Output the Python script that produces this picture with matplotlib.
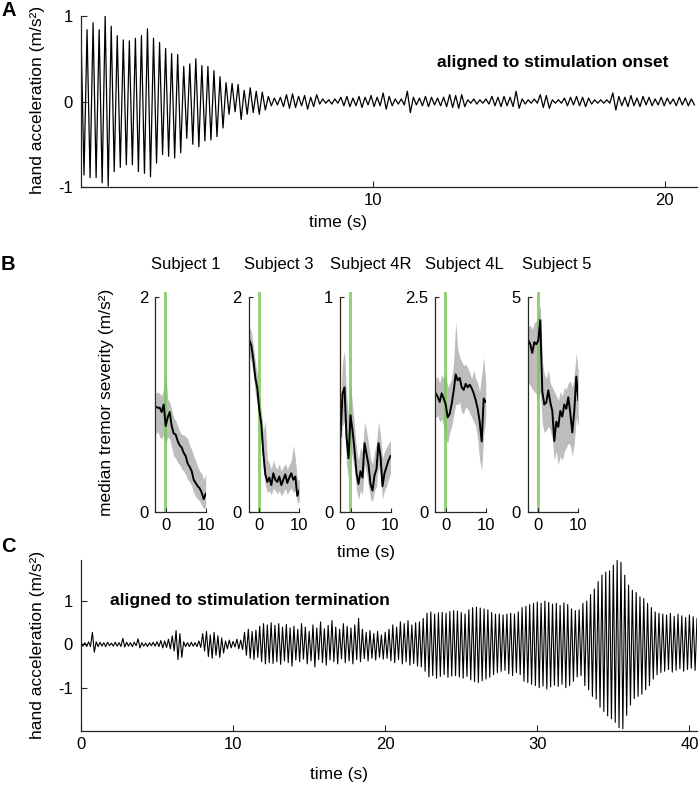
import numpy as np
import matplotlib.pyplot as plt

plt.rcParams['font.family'] = ['Liberation Sans', 'DejaVu Sans']
plt.rcParams['font.size'] = 12
plt.rcParams['axes.unicode_minus'] = False

# ---- panel A: hand acceleration aligned to stimulation onset (m/s^2)
a_cycle = 0.207   # s from one peak to the next
a_peaks = [
    0.81, 0.84, 0.92, 0.84, 1.00, 0.88, 0.77, 0.72, 0.71, 0.74,
    0.77, 0.85, 0.74, 0.69, 0.62, 0.56, 0.55, 0.41, 0.44, 0.50,
    0.42, 0.41, 0.36, 0.29, 0.22, 0.21, 0.20, 0.13, 0.16, 0.12,
    0.11, 0.06, 0.04, 0.05, 0.08, 0.09, 0.06, 0.07, 0.05, 0.08,
    0.03, 0.02, 0.03, 0.05, 0.06, 0.04, 0.06, 0.05, 0.07, 0.05,
    0.10, 0.06, 0.03, 0.03, 0.12, 0.05, 0.04, 0.06, 0.05, 0.04,
    0.05, 0.08, 0.07, 0.08, 0.02, 0.03, 0.02, 0.03, 0.06, 0.05,
    0.06, 0.05, 0.12, 0.03, 0.02, 0.03, 0.08, 0.07, 0.02, 0.02,
    0.04, 0.05, 0.06, 0.05, 0.04, 0.02, 0.02, 0.02, 0.10, 0.06,
    0.05, 0.07, 0.04, 0.06, 0.05, 0.03, 0.05, 0.04, 0.03, 0.05, 0.04, 0.03,
]
a_troughs = [
    -0.86, -0.89, -0.89, -0.95, -0.99, -0.82, -0.77, -0.74, -0.74, -0.82,
    -0.84, -0.88, -0.72, -0.62, -0.64, -0.66, -0.60, -0.43, -0.50, -0.53,
    -0.46, -0.45, -0.41, -0.31, -0.15, -0.12, -0.21, -0.15, -0.13, -0.15,
    -0.10, -0.05, -0.04, -0.06, -0.08, -0.07, -0.05, -0.09, -0.06, -0.03,
    -0.02, -0.03, -0.02, -0.05, -0.06, -0.05, -0.07, -0.04, -0.06, -0.05,
    -0.09, -0.05, -0.03, -0.04, -0.13, -0.04, -0.05, -0.06, -0.04, -0.05,
    -0.06, -0.07, -0.08, -0.06, -0.02, -0.03, -0.02, -0.03, -0.05, -0.06,
    -0.05, -0.06, -0.08, -0.03, -0.02, -0.02, -0.07, -0.08, -0.02, -0.02,
    -0.05, -0.04, -0.05, -0.06, -0.03, -0.02, -0.02, -0.02, -0.10, -0.05,
    -0.06, -0.05, -0.06, -0.04, -0.05, -0.04, -0.05, -0.03, -0.05, -0.04, -0.05, -0.04,
]

# ---- panel C: hand acceleration aligned to stimulation termination (m/s^2)
c_cycle = 0.25
c_peaks = [
    0.05, 0.04, 0.06, 0.28, 0.06, 0.05, 0.04, 0.05, 0.03, 0.05,
    0.04, 0.14, 0.05, 0.04, 0.05, 0.13, 0.04, 0.03, 0.04, 0.05,
    0.06, 0.09, 0.08, 0.12, 0.20, 0.32, 0.25, 0.06, 0.04, 0.05,
    0.04, 0.08, 0.25, 0.30, 0.22, 0.28, 0.20, 0.15, 0.08, 0.10,
    0.07, 0.12, 0.10, 0.28, 0.35, 0.30, 0.33, 0.42, 0.48, 0.45,
    0.50, 0.44, 0.48, 0.40, 0.46, 0.38, 0.42, 0.35, 0.48, 0.40,
    0.30, 0.45, 0.38, 0.52, 0.36, 0.44, 0.55, 0.40, 0.35, 0.48,
    0.42, 0.38, 0.45, 0.60, 0.35, 0.28, 0.32, 0.25, 0.30, 0.22,
    0.28, 0.35, 0.45, 0.40, 0.52, 0.48, 0.55, 0.45, 0.50, 0.52,
    0.60, 0.72, 0.75, 0.70, 0.73, 0.74, 0.72, 0.76, 0.78, 0.77,
    0.74, 0.70, 0.80, 0.85, 0.86, 0.84, 0.82, 0.80, 0.74, 0.70,
    0.70, 0.68, 0.70, 0.72, 0.70, 0.75, 0.85, 0.88, 0.92, 0.95,
    0.98, 0.95, 1.00, 0.97, 0.93, 0.95, 0.90, 0.96, 0.92, 0.82,
    0.78, 0.80, 0.95, 1.00, 1.15, 1.28, 1.45, 1.60, 1.67, 1.70,
    1.83, 1.94, 1.90, 1.60, 1.37, 1.25, 1.20, 1.10, 1.06, 0.95,
    0.85, 0.75, 0.72, 0.70, 0.68, 0.72, 0.65, 0.70, 0.66, 0.62, 0.68, 0.64, 0.60,
]
c_troughs = [
    -0.04, -0.05, -0.05, -0.18, -0.05, -0.04, -0.05, -0.03, -0.04, -0.04,
    -0.05, -0.06, -0.04, -0.05, -0.03, -0.08, -0.04, -0.05, -0.03, -0.04,
    -0.05, -0.08, -0.07, -0.10, -0.15, -0.35, -0.30, -0.05, -0.05, -0.04,
    -0.05, -0.07, -0.15, -0.28, -0.32, -0.25, -0.30, -0.20, -0.10, -0.08,
    -0.06, -0.10, -0.12, -0.25, -0.32, -0.35, -0.30, -0.40, -0.45, -0.42,
    -0.44, -0.40, -0.46, -0.38, -0.42, -0.50, -0.36, -0.40, -0.34, -0.45,
    -0.38, -0.52, -0.35, -0.42, -0.48, -0.36, -0.40, -0.45, -0.33, -0.42,
    -0.38, -0.45, -0.35, -0.40, -0.33, -0.38, -0.32, -0.36, -0.30, -0.34,
    -0.32, -0.38, -0.42, -0.35, -0.45, -0.40, -0.48, -0.44, -0.50, -0.52,
    -0.62, -0.75, -0.72, -0.78, -0.74, -0.70, -0.76, -0.73, -0.72, -0.75,
    -0.78, -0.74, -0.82, -0.86, -0.88, -0.84, -0.80, -0.76, -0.70, -0.65,
    -0.62, -0.60, -0.68, -0.72, -0.65, -0.70, -0.85, -0.88, -0.92, -0.95,
    -1.00, -0.96, -1.03, -0.98, -0.94, -0.97, -0.92, -1.00, -0.95, -0.85,
    -0.75, -0.72, -0.95, -1.05, -1.20, -1.26, -1.45, -1.55, -1.65, -1.72,
    -1.80, -1.92, -1.95, -1.64, -1.40, -1.25, -1.20, -1.15, -1.05, -0.95,
    -0.80, -0.70, -0.65, -0.62, -0.58, -0.64, -0.60, -0.56, -0.62, -0.58, -0.55, -0.60, -0.56,
]

# ---- panel B: median tremor severity around stimulation onset
b_time = [-2.5, -2.0, -1.5, -1.0, -0.5, 0.0, 0.5, 1.0, 1.5, 2.0, 2.5, 3.0, 3.5,
          4.0, 4.5, 5.0, 5.5, 6.0, 6.5, 7.0, 7.5, 8.0, 8.5, 9.0, 9.5, 10.0]
subjects = ['Subject 1', 'Subject 3', 'Subject 4R', 'Subject 4L', 'Subject 5']
b_ymax = [2, 2, 1, 2.5, 5]
b_ymax_labels = ['2', '2', '1', '2.5', '5']

sev_med = [
    [0.98, 0.97, 0.97, 0.93, 1.00, 0.80, 0.88, 0.93, 0.80, 0.73, 0.72, 0.66, 0.62,
     0.60, 0.55, 0.52, 0.45, 0.42, 0.38, 0.30, 0.27, 0.24, 0.22, 0.18, 0.12, 0.17],
    [1.60, 1.55, 1.42, 1.25, 1.15, 0.95, 0.82, 0.55, 0.35, 0.28, 0.32, 0.25, 0.36,
     0.30, 0.28, 0.33, 0.25, 0.30, 0.35, 0.27, 0.32, 0.36, 0.30, 0.33, 0.15, 0.20],
    [0.35, 0.55, 0.58, 0.35, 0.25, 0.45, 0.38, 0.29, 0.18, 0.13, 0.19, 0.16, 0.32,
     0.27, 0.22, 0.13, 0.10, 0.17, 0.20, 0.32, 0.26, 0.12, 0.18, 0.21, 0.24, 0.26],
    [1.38, 1.34, 1.28, 1.38, 1.32, 1.25, 1.10, 1.14, 1.26, 1.41, 1.60, 1.53, 1.56,
     1.45, 1.42, 1.49, 1.45, 1.48, 1.44, 1.38, 1.30, 1.20, 1.05, 0.82, 1.32, 1.28],
    [3.99, 3.90, 3.70, 3.95, 3.90, 3.99, 4.46, 2.80, 2.50, 2.55, 2.83, 2.55, 2.35,
     1.65, 2.10, 1.98, 2.35, 2.22, 2.50, 2.40, 2.67, 2.30, 1.85, 2.35, 3.15, 2.60],
]
sev_hi = [
    [1.10, 1.12, 1.10, 1.08, 1.15, 1.32, 1.05, 1.02, 0.95, 0.88, 0.85, 0.80, 0.75,
     0.72, 0.72, 0.70, 0.68, 0.62, 0.58, 0.52, 0.48, 0.42, 0.38, 0.36, 0.30, 0.35],
    [1.72, 1.68, 1.55, 1.40, 1.28, 1.08, 0.95, 0.75, 0.85, 0.50, 0.45, 0.40, 0.48,
     0.42, 0.40, 0.45, 0.38, 0.42, 0.45, 0.40, 0.44, 0.48, 0.62, 0.50, 0.30, 0.30],
    [0.50, 0.70, 0.75, 0.55, 0.45, 0.60, 0.50, 0.40, 0.30, 0.24, 0.30, 0.28, 0.42,
     0.38, 0.32, 0.25, 0.22, 0.28, 0.32, 0.42, 0.36, 0.25, 0.28, 0.30, 0.32, 0.33],
    [1.55, 1.58, 1.50, 1.60, 1.55, 1.62, 1.45, 1.50, 1.55, 1.75, 2.22, 1.90, 1.80,
     1.75, 1.70, 1.72, 1.68, 1.62, 1.55, 1.65, 1.55, 1.50, 1.40, 1.60, 1.80, 1.52],
    [4.30, 4.35, 4.25, 4.40, 4.45, 4.60, 4.80, 3.50, 3.20, 3.10, 3.30, 3.00, 2.90,
     2.80, 2.70, 2.60, 2.80, 2.70, 2.90, 2.85, 3.00, 3.05, 2.90, 3.20, 3.70, 3.25],
]
sev_lo = [
    [0.72, 0.75, 0.70, 0.68, 0.72, 0.62, 0.70, 0.68, 0.60, 0.52, 0.50, 0.46, 0.44,
     0.40, 0.38, 0.35, 0.30, 0.28, 0.24, 0.18, 0.14, 0.12, 0.10, 0.06, 0.03, 0.05],
    [1.45, 1.40, 1.28, 1.10, 1.00, 0.85, 0.65, 0.40, 0.25, 0.18, 0.20, 0.16, 0.22,
     0.20, 0.17, 0.20, 0.15, 0.18, 0.22, 0.16, 0.20, 0.22, 0.18, 0.20, 0.08, 0.10],
    [0.22, 0.40, 0.42, 0.22, 0.15, 0.30, 0.25, 0.20, 0.10, 0.06, 0.10, 0.08, 0.22,
     0.18, 0.12, 0.06, 0.05, 0.10, 0.12, 0.22, 0.16, 0.06, 0.10, 0.12, 0.15, 0.18],
    [1.10, 1.12, 1.05, 1.08, 1.00, 0.85, 0.80, 0.92, 1.00, 1.12, 1.25, 1.25, 1.28,
     1.15, 1.15, 1.22, 1.20, 1.15, 1.10, 1.05, 1.00, 0.85, 0.60, 0.48, 0.90, 1.08],
    [3.00, 2.95, 2.85, 2.80, 2.75, 2.55, 2.80, 2.05, 1.85, 1.90, 2.00, 1.90, 1.70,
     1.20, 1.40, 1.10, 1.30, 1.20, 1.40, 1.50, 1.60, 1.55, 1.30, 1.60, 2.20, 2.00],
]
stim_halfwidth = 0.4   # s, green bar around stimulation onset

W, H = 700, 786
AXC = '#262626'
GREEN = (0.47, 0.78, 0.35)


def px(x, y):
    return x / W, 1 - y / H


def box(l, t, r, b):
    return [l / W, 1 - b / H, (r - l) / W, (b - t) / H]


def trace(peaks, troughs, cycle):
    n = len(peaks)
    t = np.empty(2 * n)
    y = np.empty(2 * n)
    t[0::2] = np.arange(n) * cycle
    t[1::2] = t[0::2] + cycle / 2
    y[0::2] = peaks
    y[1::2] = troughs
    return t, y


def style(ax, pad_x=4.5, pad_y=6):
    for s in ['top', 'right']:
        ax.spines[s].set_visible(False)
    for s in ['left', 'bottom']:
        ax.spines[s].set_color(AXC)
        ax.spines[s].set_linewidth(0.9)
    ax.tick_params(direction='in', length=4, width=0.8, color=AXC, labelsize=12)
    ax.tick_params(axis='x', pad=pad_x)
    ax.tick_params(axis='y', pad=pad_y)


fig = plt.figure(figsize=(W / 100, H / 100), dpi=100)

# ---------- A
axA = fig.add_axes(box(81, 16, 697, 187))
t, y = trace(a_peaks, a_troughs, a_cycle)
axA.plot(t, y, color='black', lw=0.9)
axA.set_xlim(0, 21.1)
axA.set_ylim(-1, 1)
axA.set_xticks([10, 20])
axA.set_yticks([-1, 0, 1])
style(axA)
fig.text(*px(437, 62), 'aligned to stimulation onset', fontsize=12.5,
         fontweight='bold', ha='left', va='center')
fig.text(*px(38, 100), 'hand acceleration (m/s²)', fontsize=12.5,
         rotation=90, ha='center', va='center')
fig.text(*px(338, 223), 'time (s)', fontsize=12.5, ha='center', va='center')
fig.text(*px(9, 11), 'A', fontsize=14.5, fontweight='bold', ha='center', va='center')

# ---------- B
b_zero_x = [165.7, 259.3, 350.5, 445.7, 538.3]
title_x = [186, 279, 371, 464, 557]
xmin, xmax, pps = -2.6, 10, 4.0
for k, name in enumerate(subjects):
    l = b_zero_x[k] + xmin * pps
    ax = fig.add_axes(box(l, 297, l + (xmax - xmin) * pps, 512))
    ax.fill_between(b_time, sev_lo[k], sev_hi[k], color='#bdbdbd', lw=0)
    ax.plot(b_time, sev_med[k], color='black', lw=1.4)
    bar = ax.axvspan(-stim_halfwidth, stim_halfwidth, ymin=0, ymax=1.025,
                     color=GREEN, alpha=0.8, lw=0)
    bar.set_clip_on(False)
    ax.set_xlim(xmin, xmax)
    ax.set_ylim(0, b_ymax[k])
    ax.set_xticks([0, 10])
    ax.set_yticks([0, b_ymax[k]])
    ax.set_yticklabels(['0', b_ymax_labels[k]])
    style(ax, pad_x=4, pad_y=5)
    ax.tick_params(length=3)
    fig.text(*px(title_x[k], 265), name, fontsize=12, ha='center', va='center')
fig.text(*px(107, 402), 'median tremor severity (m/s²)', fontsize=12.5,
         rotation=90, ha='center', va='center')
fig.text(*px(366, 552), 'time (s)', fontsize=12.5, ha='center', va='center')
fig.text(*px(8, 264), 'B', fontsize=14.5, fontweight='bold', ha='center', va='center')

# ---------- C
axC = fig.add_axes(box(81, 560, 697, 731))
t, y = trace(c_peaks, c_troughs, c_cycle)
axC.plot(t, y, color='black', lw=0.8)
axC.set_xlim(0, 40.5)
axC.set_ylim(-2, 1.95)
axC.set_xticks([0, 10, 20, 30, 40])
axC.set_yticks([-1, 0, 1])
style(axC)
fig.text(*px(110, 601), 'aligned to stimulation termination', fontsize=12.5,
         fontweight='bold', ha='left', va='center')
fig.text(*px(38, 645), 'hand acceleration (m/s²)', fontsize=12.5,
         rotation=90, ha='center', va='center')
fig.text(*px(339, 775), 'time (s)', fontsize=12.5, ha='center', va='center')
fig.text(*px(8, 546), 'C', fontsize=14.5, fontweight='bold', ha='center', va='center')

fig.savefig('out.png', dpi=100)
